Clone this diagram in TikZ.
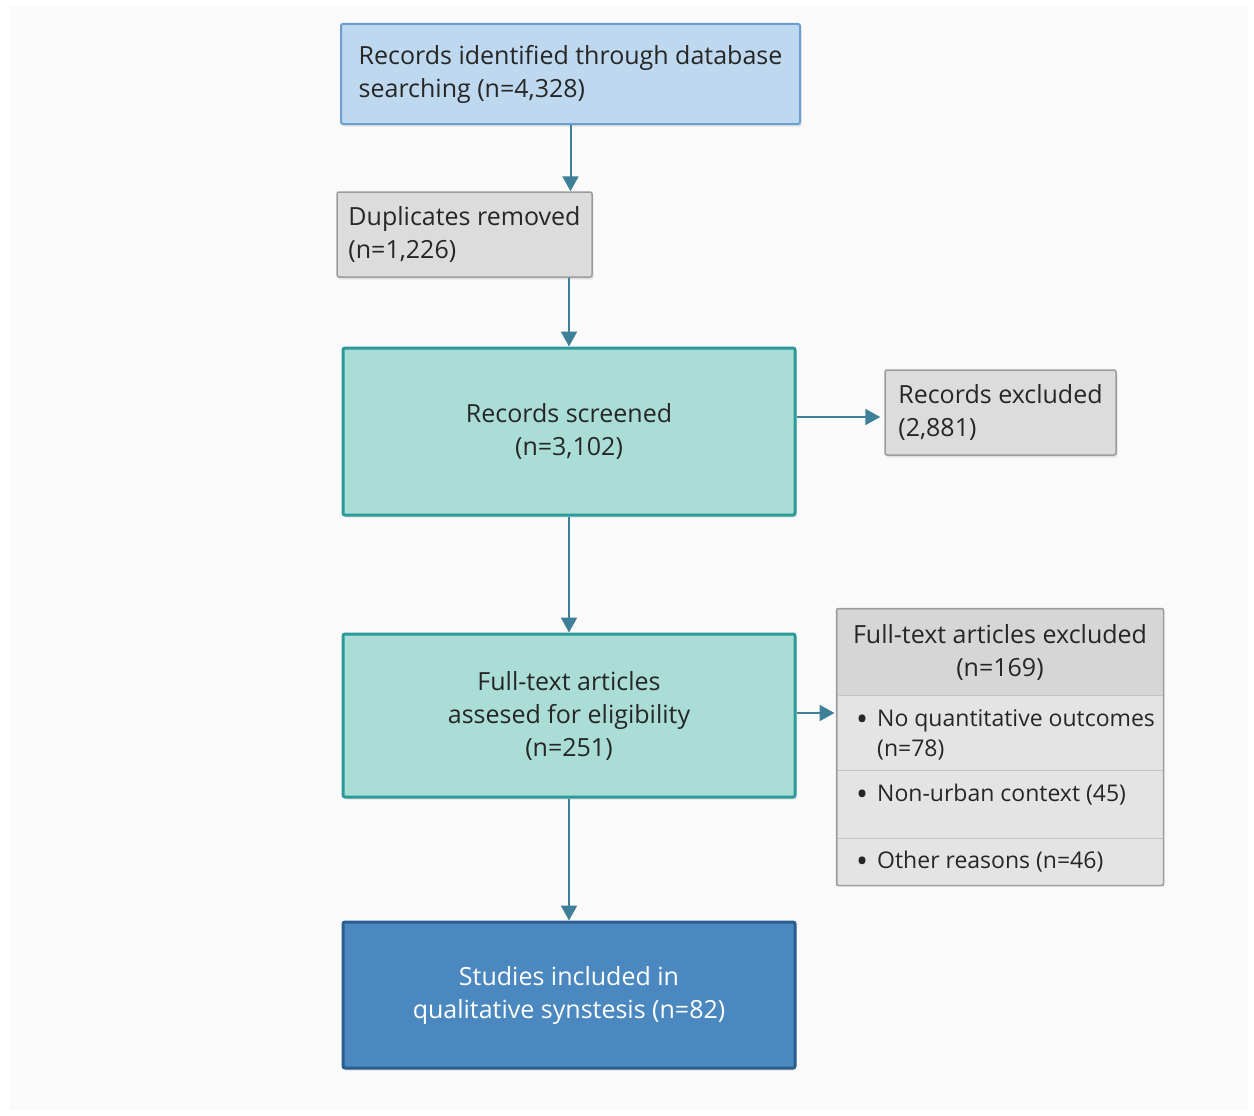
\documentclass[tikz,border=0pt]{standalone}
\usepackage{fontspec}
\setmainfont{Open Sans}[Ligatures=NoCommon]
\usetikzlibrary{arrows.meta,shadows}
\definecolor{bgc}{HTML}{FAFAFA}
\definecolor{txt}{HTML}{262626}
\definecolor{lbfill}{HTML}{BDD8EF}
\definecolor{lbdraw}{HTML}{6A9FD2}
\definecolor{gyfill}{HTML}{DCDCDC}
\definecolor{gydraw}{HTML}{9C9C9C}
\definecolor{tlfill}{HTML}{A9DDD6}
\definecolor{tldraw}{HTML}{2C9A9B}
\definecolor{bfill}{HTML}{4A88BF}
\definecolor{bdraw}{HTML}{2B5E8E}
\definecolor{hdrfill}{HTML}{D6D6D6}
\definecolor{rowfill}{HTML}{E4E4E4}
\definecolor{rowline}{HTML}{C4C4C4}
\definecolor{arrowc}{HTML}{3F8099}
\newcommand{\blt}{\makebox[21pt][l]{\raisebox{-4pt}{\fontsize{32}{30}\selectfont\textbullet}}}
\begin{document}
\begin{tikzpicture}[x=1pt,y=-1pt,
  every node/.style={font=\fontsize{25}{33}\selectfont, text=txt, inner sep=0pt},
  shade/.style={drop shadow={shadow xshift=1.5pt,shadow yshift=-2.5pt,opacity=0.18}},
  lightbox/.style={rectangle, fill=lbfill, draw=lbdraw, line width=2pt, rounded corners=2pt, align=left, shade},
  graybox/.style={rectangle, fill=gyfill, draw=gydraw, line width=1.5pt, rounded corners=2pt, align=left, shade},
  tealbox/.style={rectangle, fill=tlfill, draw=tldraw, line width=3pt, rounded corners=2pt, align=center, shade},
  bluebox/.style={rectangle, fill=bfill, draw=bdraw, line width=3pt, rounded corners=2pt, align=center, text=white, shade},
  rowbox/.style={rectangle, draw=rowline, line width=1pt, minimum width=326, align=left},
  rowtext/.style={anchor=west, align=left, font=\fontsize{23}{30}\selectfont},
  conn/.style={draw=arrowc, line width=2pt, -{Triangle[length=15pt,width=16pt]}}
]
\useasboundingbox (0,0) rectangle (1254,1116);
\fill[bgc] (10,6) rectangle (1248,1110);

% main column
\node[lightbox, minimum width=459, minimum height=100] (id) at (570.5,74)
  {Records identified through database\\searching (n=4,328)};
\node[graybox, minimum width=255, minimum height=85] (dup) at (464.5,234.5)
  {Duplicates removed\\(n=1,226)};
\node[tealbox, minimum width=452, minimum height=167] (scr) at (569,431.5)
  {Records screened\\(n=3,102)};
\node[tealbox, minimum width=452, minimum height=163] (full) at (569,715.5)
  {Full-text articles\\assesed for eligibility\\(n=251)};
\node[bluebox, minimum width=452, minimum height=146] (incl) at (569,995)
  {Studies included in\\qualitative synstesis (n=82)};

% side boxes
\node[graybox, minimum width=231, minimum height=85] (recex) at (1000.5,412.5)
  {Records excluded\\(2,881)};

\node[rowbox, fill=hdrfill, minimum height=86, align=center] (hdr) at (1000,652)
  {Full-text articles excluded\\(n=169)};
\node[rowbox, fill=rowfill, minimum height=75] (r1) at (1000,732.5) {};
\node[rowbox, fill=rowfill, minimum height=68] (r2) at (1000,804) {};
\node[rowbox, fill=rowfill, minimum height=47] (r3) at (1000,861.5) {};
\draw[gydraw, line width=1.5pt, rounded corners=2pt] (hdr.north west) rectangle (r3.south east);
\node[rowtext] (t1) at (856,735) {\blt No quantitative outcomes\\\hphantom{\blt}(n=78)};
\node[rowtext] (t2) at (856,795) {\blt Non-urban context (45)};
\node[rowtext] (t3) at (856,862) {\blt Other reasons (n=46)};

% connectors
\draw[conn] (id.south) -- (id.south |- dup.north);
\draw[conn] (scr.north |- dup.south) -- (scr.north);
\draw[conn] (scr.south) -- (full.north);
\draw[conn] (full.south) -- (incl.north);
\draw[conn, shorten >=4pt] (scr.east |- 0,417) -- (recex.west |- 0,417);
\draw[conn, shorten >=2pt] (full.east |- 0,713) -- (hdr.west |- 0,713);
\end{tikzpicture}
\end{document}
